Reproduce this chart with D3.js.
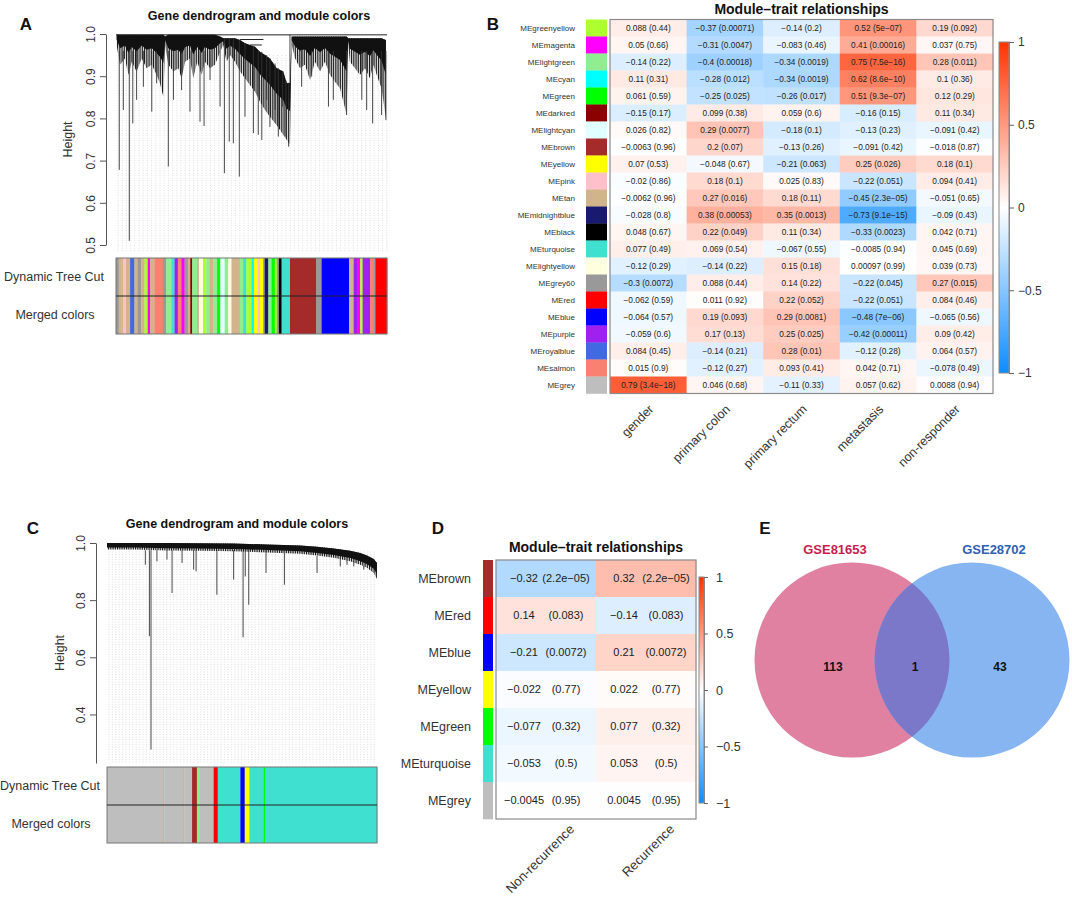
<!DOCTYPE html>
<html>
<head>
<meta charset="utf-8">
<script src="https://cdn.jsdelivr.net/npm/d3@7"></script>
<style>
  body { margin: 0; background: #fff; }
  svg text { font-family: "Liberation Sans", Arial, Helvetica, sans-serif; }
</style>
</head>
<body>
<svg id="fig" width="1072" height="898"></svg>
<script>
// ---------------- data ----------------
// panel B: module-trait table
const traitsB = ["gender", "primary colon", "primary rectum", "metastasis", "non-responder"]
const modulesB = ["greenyellow", "magenta", "lightgreen", "cyan", "green", "darkred", "lightcyan", "brown",
  "yellow", "pink", "tan", "midnightblue", "black", "turquoise", "lightyellow", "grey60", "red", "blue",
  "purple", "royalblue", "salmon", "grey"]
const corB = [
  [0.088, -0.37, -0.14, 0.52, 0.19],
  [0.05, -0.31, -0.083, 0.41, 0.037],
  [-0.14, -0.4, -0.34, 0.75, 0.28],
  [0.11, -0.28, -0.34, 0.62, 0.1],
  [0.061, -0.25, -0.26, 0.51, 0.12],
  [-0.15, 0.099, 0.059, -0.16, 0.11],
  [0.026, 0.29, -0.18, -0.13, -0.091],
  [-0.0063, 0.2, -0.13, -0.091, -0.018],
  [0.07, -0.048, -0.21, 0.25, 0.18],
  [-0.02, 0.18, 0.025, -0.22, 0.094],
  [-0.0062, 0.27, 0.18, -0.45, -0.051],
  [-0.028, 0.38, 0.35, -0.73, -0.09],
  [0.048, 0.22, 0.11, -0.33, 0.042],
  [0.077, 0.069, -0.067, -0.0085, 0.045],
  [-0.12, -0.14, 0.15, 0.00097, 0.039],
  [-0.3, 0.088, 0.14, -0.22, 0.27],
  [-0.062, 0.011, 0.22, -0.22, 0.084],
  [-0.064, 0.19, 0.29, -0.48, -0.065],
  [-0.059, 0.17, 0.25, -0.42, 0.09],
  [0.084, -0.14, 0.28, -0.12, 0.064],
  [0.015, -0.12, 0.093, 0.042, -0.078],
  [0.79, 0.046, -0.11, 0.057, 0.0088]
]
const pB = [
  ["0.44", "0.00071", "0.2", "5e-07", "0.092"],
  ["0.66", "0.0047", "0.46", "0.00016", "0.75"],
  ["0.22", "0.00018", "0.0019", "7.5e-16", "0.011"],
  ["0.31", "0.012", "0.0019", "8.6e-10", "0.36"],
  ["0.59", "0.025", "0.017", "9.3e-07", "0.29"],
  ["0.17", "0.38", "0.6", "0.15", "0.34"],
  ["0.82", "0.0077", "0.1", "0.23", "0.42"],
  ["0.96", "0.07", "0.26", "0.42", "0.87"],
  ["0.53", "0.67", "0.063", "0.026", "0.1"],
  ["0.86", "0.1", "0.83", "0.051", "0.41"],
  ["0.96", "0.016", "0.11", "2.3e-05", "0.65"],
  ["0.8", "0.00053", "0.0013", "9.1e-15", "0.43"],
  ["0.67", "0.049", "0.34", "0.0023", "0.71"],
  ["0.49", "0.54", "0.55", "0.94", "0.69"],
  ["0.29", "0.22", "0.18", "0.99", "0.73"],
  ["0.0072", "0.44", "0.22", "0.045", "0.015"],
  ["0.59", "0.92", "0.052", "0.051", "0.46"],
  ["0.57", "0.093", "0.0081", "7e-06", "0.56"],
  ["0.6", "0.13", "0.025", "0.00011", "0.42"],
  ["0.45", "0.21", "0.01", "0.28", "0.57"],
  ["0.9", "0.27", "0.41", "0.71", "0.49"],
  ["3.4e-18", "0.68", "0.33", "0.62", "0.94"]
]

// panel D
const traitsD = ["Non-recurrence", "Recurrence"]
const modulesD = ["brown", "red", "blue", "yellow", "green", "turquoise", "grey"]
const corD = [[-0.32, 0.32], [0.14, -0.14], [-0.21, 0.21], [-0.022, 0.022], [-0.077, 0.077], [-0.053, 0.053], [-0.0045, 0.0045]]
const pD = [["2.2e-05", "2.2e-05"], ["0.083", "0.083"], ["0.0072", "0.0072"], ["0.77", "0.77"], ["0.32", "0.32"], ["0.5", "0.5"], ["0.95", "0.95"]]

// panel E
const vennSets = ["GSE81653", "GSE28702"]
const vennCounts = [113, 1, 43]   // only first, shared, only second

// panel A dendrogram, leaf position in % of leaf order, heights
const canopyA = [ // [x, top, bottom] of the dense branch mass
  [0.2, .998, .974], [1.5, .998, .927], [3.3, .998, .942], [4.6, .998, .903], [5.8, .998, .934],
  [7.6, .998, .911], [9.5, .998, .942], [11.3, .998, .919], [13.2, .998, .927], [15.0, .998, .903],
  [16.2, .998, .883], [17.5, .998, .851], [18.1, .994, .974], [19.3, .998, .927], [21.2, .998, .911],
  [23.0, .998, .919], [24.2, .998, .895], [25.5, .998, .934], [27.3, .998, .942], [28.5, .998, .895],
  [30.0, .998, .934], [31.6, .998, .903], [32.8, .998, .934], [34.7, .998, .919], [36.5, .998, .927],
  [38.4, .994, .958], [39.6, .990, .974], [40.8, .990, .934], [42.1, .990, .950], [43.9, .990, .934],
  [45.8, .986, .911], [47.6, .978, .895], [49.4, .974, .879], [51.3, .970, .863], [53.1, .958, .840],
  [55.0, .950, .820], [56.8, .942, .804], [59.3, .919, .784], [61.7, .911, .761], [63.0, .883, .749],
  [64.2, .883, .737], [64.8, .994, .974], [66.1, .994, .942], [67.9, .994, .919], [69.7, .994, .927],
  [71.6, .994, .891], [73.4, .994, .934], [75.3, .994, .911], [77.1, .994, .934], [79.0, .994, .903],
  [80.8, .994, .887], [82.7, .994, .871], [83.9, .994, .840], [85.1, .994, .808], [85.7, .990, .974],
  [86.3, .990, .934], [88.2, .990, .919], [90.0, .990, .903], [91.9, .990, .919], [93.7, .990, .895],
  [95.0, .990, .927], [96.2, .990, .903], [98.0, .990, .871], [99.6, .986, .800]
]
const dropsA = [ // [x, top, bottom] single long branches
  [1.2, .96, .678], [2.7, .96, .820], [4.9, .96, .510], [6.2, .96, .788], [7.6, .96, .844],
  [10.1, .96, .875], [13.2, .96, .816], [15.0, .96, .883], [19.3, .96, .686], [21.2, .96, .844],
  [24.2, .96, .867], [27.3, .96, .816], [31.0, .96, .792], [32.5, .96, .782], [34.7, .96, .891],
  [38.4, .96, .828], [40.0, .99, .670], [41.8, .99, .745], [43.3, .99, .741], [45.5, .986, .662],
  [47.6, .978, .804], [50.7, .97, .765], [52.5, .96, .761], [53.8, .958, .749], [55.6, .95, .844],
  [56.8, .942, .780], [58.7, .93, .820], [59.9, .919, .757], [61.5, .911, .828], [62.7, .89, .757],
  [63.7, .883, .733], [64.2, .998, .883], [68.5, .96, .875], [72.2, .96, .899], [78.4, .96, .828],
  [80.2, .96, .844], [85.1, .96, .808], [90.7, .96, .844], [92.5, .96, .820], [94.7, .96, .788],
  [98.0, .96, .808], [99.6, .96, .796]
]
const mergesA = [[0, 100, .998], [45.8, 54.4, .987], [49.4, 53.8, .974], [61.7, 64.2, .883]]
const barColorsA = ["grey60", "tan", "tan", "pink", "tan", "royalblue", "tan", "grey60", "tan", "greenyellow",
  "magenta", "tan", "salmon", "grey60", "lightgreen", "turquoise", "purple", "salmon", "magenta", "grey60",
  "tan", "darkred", "lightgreen", "tan", "lightyellow", "greenyellow", "lightgreen", "tan", "lightgreen", "green",
  "lightcyan", "lightgreen", "lightyellow", "tan", "lightgreen", "turquoise", "greenyellow", "cyan", "yellow", "pink",
  "yellow", "grey60", "midnightblue", "lightgreen", "green", "greenyellow", "grey60", "black", "turquoise", "brown",
  "grey60", "blue", "tan", "purple", "magenta", "greenyellow", "purple", "salmon", "grey60", "red"]
const barEndsA = [1.0, 2.0, 2.7, 3.7, 5.2, 6.8, 8.0, 9.3, 10.5, 11.7,
  12.6, 14.2, 17.3, 18.5, 20.4, 21.6, 22.8, 24.1, 25.3, 26.5,
  27.4, 28.1, 29.9, 30.6, 32.1, 33.3, 34.6, 35.8, 37.3, 38.5,
  40.1, 41.4, 42.6, 45.7, 46.9, 48.1, 50.0, 50.9, 52.2, 53.1,
  54.3, 54.9, 56.2, 57.4, 58.6, 59.3, 60.1, 61.1, 64.2, 73.8,
  75.9, 86.0, 87.7, 88.9, 90.1, 91.0, 93.8, 95.1, 95.7, 100]

// panel C dendrogram
const canopyC = [
  [0, 1.0, .977], [9.9, 1.0, .977], [22.2, 1.0, .974], [34.6, .999, .973], [46.9, .998, .971],
  [59.3, .995, .967], [71.6, .991, .962], [77.8, .987, .956], [84.0, .981, .948], [90.1, .973, .936],
  [93.8, .965, .924], [96.3, .956, .913], [98.8, .944, .895], [100, .930, .874]
]
const dropsC = [
  [14.2, .975, .924], [15.7, .975, .674], [16.3, .975, .277], [18.5, .975, .936], [22.2, .975, .942],
  [24.1, .975, .825], [27.8, .975, .930], [32.1, .975, .907], [33.0, .975, .901], [40.7, .975, .819],
  [46.9, .975, .872], [50.4, .975, .670], [51.2, .975, .883], [52.5, .975, .784], [58.9, .975, .895],
  [65.7, .965, .854], [77.8, .955, .895], [86.4, .945, .918], [88.9, .94, .924], [91.4, .935, .918],
  [95.1, .92, .907]
]
const mergesC = []
const barColorsC = ["grey", "tan", "grey", "tan", "grey", "brown", "lightgreen", "grey", "red", "turquoise",
  "blue", "yellow", "turquoise", "green", "turquoise"]
const barEndsC = [20.7, 21.2, 28.1, 28.6, 31.5, 33.3, 34.3, 39.5, 41.0, 49.4, 51.0, 52.7, 58.0, 58.6, 100]

// ---------------- helpers ----------------
const rcol = {
  greenyellow: "#ADFF2F", magenta: "#FF00FF", lightgreen: "#90EE90", cyan: "#00FFFF", green: "#00FF00",
  darkred: "#8B0000", lightcyan: "#E0FFFF", brown: "#A52A2A", yellow: "#FFFF00", pink: "#FFC0CB",
  tan: "#D2B48C", midnightblue: "#191970", black: "#000000", turquoise: "#40E0D0", lightyellow: "#FFFFE0",
  grey60: "#999999", red: "#FF0000", blue: "#0000FF", purple: "#A020F0", royalblue: "#4169E1",
  salmon: "#FA8072", grey: "#BEBEBE"
}
const heat = d3.scaleLinear().domain([-1, 0, 1]).range(["#0d8cff", "#ffffff", "#ff3300"])
const minus = s => String(s).replace(/-/g, "\u2212")
const ink = "#333"

const svg = d3.select("#fig")
const defs = svg.append("defs")

// thin vertical hatching for the lower fringe of the dendrograms
defs.append("pattern").attr("id", "hatch").attr("patternUnits", "userSpaceOnUse")
  .attr("width", 1.8).attr("height", 4)
  .append("rect").attr("width", 1).attr("height", 4).attr("fill", "#111")

// panel letters
const letters = [["A", 26, 30], ["B", 493, 30], ["C", 33, 534], ["D", 438, 534], ["E", 765, 534]]
svg.append("g").selectAll("text").data(letters).join("text")
  .attr("x", d => d[1]).attr("y", d => d[2])
  .attr("text-anchor", "middle").attr("font-size", 17).attr("font-weight", "bold").attr("fill", "#111")
  .text(d => d[0])

// ---------------- dendrogram panels ----------------
function drawDendro(p) {
  const g = svg.append("g")
  const x = d3.scaleLinear().domain([0, 100]).range([p.x0, p.x1])
  const y = d3.scaleLinear().domain([p.hMin, 1]).range([p.yBottom, p.yTop])

  g.append("text").attr("x", p.titleX).attr("y", p.titleY).attr("text-anchor", "middle")
    .attr("font-size", 12.5).attr("font-weight", "bold").attr("fill", "#111")
    .text("Gene dendrogram and module colors")

  // faint leaf guides
  g.append("g").selectAll("line").data(d3.range(p.x0 + 2, p.x1, p.dotStep)).join("line")
    .attr("x1", d => d).attr("x2", d => d)
    .attr("y1", y(p.guideTop)).attr("y2", p.guideBottom)
    .attr("stroke", "#cfcfcf").attr("stroke-width", 0.7).attr("stroke-dasharray", "1,1.5")

  // branch mass: hatched fringe, solid core
  g.append("path").datum(p.canopy)
    .attr("d", d3.area().x(d => x(d[0])).y0(d => y(d[2])).y1(d => y(d[1])))
    .attr("fill", "url(#hatch)")
  g.append("path").datum(p.canopy)
    .attr("d", d3.area().x(d => x(d[0])).y0(d => y(d[1] - (d[1] - d[2]) * p.core)).y1(d => y(d[1])))
    .attr("fill", "#111")

  // long single branches
  g.append("g").selectAll("line").data(p.drops).join("line")
    .attr("x1", d => x(d[0])).attr("x2", d => x(d[0]))
    .attr("y1", d => y(d[1])).attr("y2", d => y(d[2]))
    .attr("stroke", "#333").attr("stroke-width", 0.9)

  g.append("g").selectAll("line").data(p.merges).join("line")
    .attr("x1", d => x(d[0])).attr("x2", d => x(d[1]))
    .attr("y1", d => y(d[2])).attr("y2", d => y(d[2]))
    .attr("stroke", "#222").attr("stroke-width", 1)

  // y axis
  const ax = g.append("g").attr("transform", `translate(${p.axisX},0)`)
    .call(d3.axisLeft(y).tickValues(p.ticks).tickFormat(d3.format(".1f")).tickSize(6).tickSizeOuter(0))
    .attr("font-family", null).attr("font-size", 12)
  ax.select(".domain").attr("stroke", "#555")
  ax.selectAll(".tick line").attr("stroke", "#555")
  ax.selectAll(".tick text").attr("x", 0).attr("dy", null).attr("fill", ink)
    .attr("text-anchor", "middle").attr("transform", "translate(-11,0) rotate(-90)")
  g.append("text").attr("transform", `translate(${p.heightX},${(p.yTop + p.yBottom) / 2}) rotate(-90)`)
    .attr("text-anchor", "middle").attr("font-size", 12.5).attr("fill", ink).text("Height")

  // module colour rows
  const starts = [0].concat(p.barEnds.slice(0, -1))
  g.append("g").selectAll("rect").data(p.barColors).join("rect")
    .attr("x", (d, i) => x(starts[i])).attr("width", (d, i) => x(p.barEnds[i]) - x(starts[i]) + 0.3)
    .attr("y", p.barY0).attr("height", p.barY1 - p.barY0)
    .attr("fill", d => rcol[d])
  g.append("rect").attr("x", p.x0).attr("y", p.barY0).attr("width", p.x1 - p.x0).attr("height", p.barY1 - p.barY0)
    .attr("fill", "none").attr("stroke", "#777").attr("stroke-width", 1)
  const mid = (p.barY0 + p.barY1) / 2
  g.append("line").attr("x1", p.x0).attr("x2", p.x1).attr("y1", mid).attr("y2", mid)
    .attr("stroke", "#222").attr("stroke-width", 1)
  g.append("text").attr("x", p.labelX).attr("y", (p.barY0 + mid) / 2).attr("dy", "0.35em")
    .attr("text-anchor", "middle").attr("font-size", 12.5).attr("fill", ink).text("Dynamic Tree Cut")
  g.append("text").attr("x", p.labelX + 1).attr("y", (mid + p.barY1) / 2).attr("dy", "0.35em")
    .attr("text-anchor", "middle").attr("font-size", 12.5).attr("fill", ink).text("Merged colors")
}

drawDendro({
  x0: 116, x1: 387, yTop: 34, yBottom: 245, hMin: 0.5, ticks: [0.5, 0.6, 0.7, 0.8, 0.9, 1.0],
  canopy: canopyA, drops: dropsA, merges: mergesA, barColors: barColorsA, barEnds: barEndsA, core: 0.45,
  axisX: 106, heightX: 72, titleX: 259, titleY: 20, dotStep: 4.2, guideTop: 0.95, guideBottom: 252,
  barY0: 258, barY1: 334, labelX: 54
})
drawDendro({
  x0: 107, x1: 377, yTop: 543, yBottom: 763, hMin: 0.23, ticks: [0.4, 0.6, 0.8, 1.0],
  canopy: canopyC, drops: dropsC, merges: mergesC, barColors: barColorsC, barEnds: barEndsC, core: 0.7,
  axisX: 96, heightX: 64, titleX: 237, titleY: 528, dotStep: 3.4, guideTop: 0.97, guideBottom: 764,
  barY0: 767, barY1: 843, labelX: 50
})

// ---------------- heatmap panels ----------------
function drawHeatmap(p) {
  const g = svg.append("g")
  const xb = d3.scaleBand().domain(p.traits).range([p.x0, p.x1])
  const yb = d3.scaleBand().domain(p.modules).range([p.y0, p.y1])
  const cells = []
  p.modules.forEach((m, i) => p.traits.forEach((t, j) => cells.push({ m, t, r: p.cor[i][j], pv: p.pv[i][j] })))

  g.append("text").attr("x", (p.x0 + p.x1) / 2).attr("y", p.titleY).attr("text-anchor", "middle")
    .attr("font-size", 14).attr("font-weight", "bold").attr("fill", "#111").text("Module\u2013trait relationships")

  g.append("g").selectAll("rect").data(cells).join("rect")
    .attr("x", d => xb(d.t)).attr("y", d => yb(d.m))
    .attr("width", xb.bandwidth() + 0.4).attr("height", yb.bandwidth() + 0.4)
    .attr("fill", d => heat(d.r))
  g.append("rect").attr("x", p.x0).attr("y", p.y0).attr("width", p.x1 - p.x0).attr("height", p.y1 - p.y0)
    .attr("fill", "none").attr("stroke", "#8a8a8a").attr("stroke-width", 1.2)

  // module swatches and names
  g.append("g").selectAll("rect").data(p.modules).join("rect")
    .attr("x", p.swX0).attr("width", p.swX1 - p.swX0)
    .attr("y", d => yb(d)).attr("height", yb.bandwidth() + 0.3)
    .attr("fill", d => rcol[d])
  g.append("g").selectAll("text").data(p.modules).join("text")
    .attr("x", p.labelX).attr("y", d => yb(d) + yb.bandwidth() / 2).attr("dy", "0.35em")
    .attr("text-anchor", "end").attr("font-size", p.labelSize).attr("fill", ink)
    .text(d => "ME" + d)

  // cell text
  const tg = g.append("g").attr("fill", "#222").attr("font-size", p.cellSize)
  if (p.split) {
    tg.selectAll("text.r").data(cells).join("text").attr("class", "r")
      .attr("x", d => xb(d.t) + xb.bandwidth() / 2 + p.split[0]).attr("y", d => yb(d.m) + yb.bandwidth() / 2)
      .attr("dy", "0.35em").attr("text-anchor", "middle").text(d => minus(d.r))
    tg.selectAll("text.p").data(cells).join("text").attr("class", "p")
      .attr("x", d => xb(d.t) + xb.bandwidth() / 2 + p.split[1]).attr("y", d => yb(d.m) + yb.bandwidth() / 2)
      .attr("dy", "0.35em").attr("text-anchor", "middle").text(d => "(" + minus(d.pv) + ")")
  } else {
    tg.selectAll("text").data(cells).join("text")
      .attr("x", d => xb(d.t) + xb.bandwidth() / 2).attr("y", d => yb(d.m) + yb.bandwidth() / 2)
      .attr("dy", "0.35em").attr("text-anchor", "middle")
      .text(d => minus(d.r) + " (" + minus(d.pv) + ")")
  }

  // trait names
  g.append("g").selectAll("text").data(p.traits).join("text")
    .attr("transform", d => `translate(${xb(d) + xb.bandwidth() / 2 + p.xlabDx},${p.xlabY}) rotate(-45)`)
    .attr("text-anchor", "end").attr("font-size", p.xlabSize).attr("fill", ink).text(d => d)

  // colour key
  const cb = d3.scaleLinear().domain([-1, 1]).range([p.cbY1, p.cbY0])
  const gid = "grad" + p.id
  const grad = defs.append("linearGradient").attr("id", gid)
    .attr("x1", 0).attr("y1", 0).attr("x2", 0).attr("y2", 1)
  grad.selectAll("stop").data(d3.range(1, -1.001, -0.1)).join("stop")
    .attr("offset", d => (1 - d) / 2).attr("stop-color", d => heat(d))
  g.append("rect").attr("x", p.cbX0).attr("y", p.cbY0).attr("width", p.cbX1 - p.cbX0).attr("height", p.cbY1 - p.cbY0)
    .attr("fill", `url(#${gid})`).attr("stroke", "#888").attr("stroke-width", 1)
  const ca = g.append("g").attr("transform", `translate(${p.cbX1},0)`)
    .call(d3.axisRight(cb).tickValues([-1, -0.5, 0, 0.5, 1]).tickFormat(d3.format(""))
      .tickSize(p.cbTick).tickSizeOuter(0).tickPadding(p.cbPad))
    .attr("font-family", null).attr("font-size", p.cbSize)
  ca.select(".domain").attr("stroke", "#888")
  ca.selectAll(".tick line").attr("stroke", "#666")
  ca.selectAll(".tick text").attr("fill", ink)
}

drawHeatmap({
  id: "B", traits: traitsB, modules: modulesB, cor: corB, pv: pB,
  x0: 610, x1: 993, y0: 19.5, y1: 393.5, titleY: 14,
  swX0: 586, swX1: 607, labelX: 575, labelSize: 8, cellSize: 8.3,
  xlabDx: 6, xlabY: 410, xlabSize: 12.5,
  cbX0: 999, cbX1: 1009, cbY0: 42, cbY1: 373, cbTick: 5, cbPad: 4, cbSize: 12
})
drawHeatmap({
  id: "D", traits: traitsD, modules: modulesD, cor: corD, pv: pD, split: [-22, 20],
  x0: 496, x1: 696, y0: 560, y1: 819, titleY: 552,
  swX0: 483, swX1: 493, labelX: 471, labelSize: 12.5, cellSize: 11,
  xlabDx: 29, xlabY: 830, xlabSize: 13,
  cbX0: 699, cbX1: 704, cbY0: 577, cbY1: 803, cbTick: 4, cbPad: 8, cbSize: 12.5
})

// ---------------- Venn (panel E) ----------------
const venn = svg.append("g")
const vr = 97.5, vy = 660, vxL = 852, vxR = 972
defs.append("clipPath").attr("id", "clipR")
  .append("circle").attr("cx", vxR).attr("cy", vy).attr("r", vr)
venn.append("circle").attr("cx", vxL).attr("cy", vy).attr("r", vr).attr("fill", "#e181a2")
venn.append("circle").attr("cx", vxR).attr("cy", vy).attr("r", vr).attr("fill", "#86b5f1")
venn.append("circle").attr("cx", vxL).attr("cy", vy).attr("r", vr).attr("fill", "#7b78c9")
  .attr("clip-path", "url(#clipR)")
venn.selectAll("text.set").data(vennSets).join("text").attr("class", "set")
  .attr("x", (d, i) => i ? vxR + 22 : vxL - 17).attr("y", 554)
  .attr("text-anchor", "middle").attr("font-size", 13).attr("font-weight", "bold")
  .attr("fill", (d, i) => i ? "#2d5fb4" : "#c81d50").text(d => d)
venn.selectAll("text.n").data(vennCounts).join("text").attr("class", "n")
  .attr("x", (d, i) => [vxL - 19, (vxL + vxR) / 2 + 3, vxR + 28][i]).attr("y", 671)
  .attr("text-anchor", "middle").attr("font-size", 12).attr("font-weight", "bold").attr("fill", "#111")
  .text(d => d)
</script>
</body>
</html>
